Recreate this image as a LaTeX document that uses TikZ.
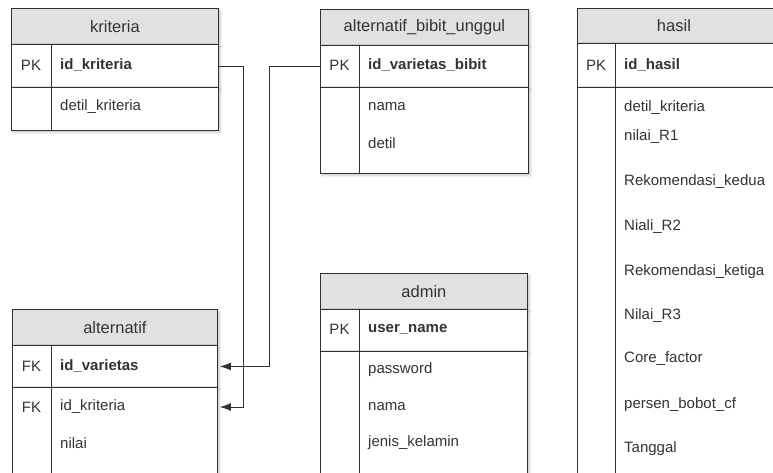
\documentclass[tikz,border=0pt]{standalone}
\usepackage{fontspec}
\setmainfont{Liberation Sans}
\usepackage{xcolor}
\usetikzlibrary{arrows.meta,positioning,shadows.blur}
\definecolor{hdgray}{HTML}{E1E1E1}
\definecolor{lngray}{HTML}{303030}
\definecolor{txgray}{HTML}{333333}
\tikzstyle{tbl}=[draw=lngray, line width=0.9pt, fill=white, inner sep=0pt, anchor=north west, blur shadow={shadow xshift=2pt, shadow yshift=-2pt, shadow blur radius=2.5pt, shadow opacity=22}]
\tikzstyle{head}=[tbl, fill=hdgray, text=txgray, font=\fontsize{16.5}{20}\selectfont]
\tikzstyle{fld}=[anchor=west, inner sep=0pt, text=txgray, font=\fontsize{15}{18}\selectfont]
\tikzstyle{key}=[fld, anchor=center]
\tikzstyle{bold}=[font=\fontsize{15}{18}\selectfont\bfseries]
\tikzset{fk/.style={-{Latex[length=11pt,width=8pt]}, draw=lngray, line width=0.9pt, shorten >=2pt},
    sep/.style={draw=lngray, line width=0.9pt}}

\begin{document}
\begin{tikzpicture}[x=1pt,y=-1pt]
    \useasboundingbox (0,0) rectangle (773,472);
    % kriteria
    \node[head, minimum width=207pt, minimum height=36pt] (krit) at (11,8) {kriteria};
    \node[tbl, minimum width=207pt, minimum height=43pt] (kritpk) at (11,44) {};
    \node[tbl, minimum width=207pt, minimum height=43pt] (kritbody) at (11,87) {};
    \draw[sep] ([xshift=40pt]kritpk.north west) -- ([xshift=40pt]kritbody.south west);
    \node[key] (kritk) at (31,65) {PK};
    \node[fld,bold] (kritid) at (60,65) {id\_kriteria};
    \node[fld] (kritdet) at (60,107) {detil\_kriteria};
    % alternatif_bibit_unggul
    \node[head, minimum width=208pt, minimum height=36pt] (aub) at (320,9) {alternatif\_bibit\_unggul};
    \node[tbl, minimum width=208pt, minimum height=42pt] (aubpk) at (320,45) {};
    \node[tbl, minimum width=208pt, minimum height=86pt] (aubbody) at (320,87) {};
    \draw[sep] ([xshift=39pt]aubpk.north west) -- ([xshift=39pt]aubbody.south west);
    \node[key] (aubk) at (339.5,65) {PK};
    \node[fld,bold] (aubid) at (368,65) {id\_varietas\_bibit};
    \node[fld] (aubnama) at (368,107) {nama};
    \node[fld] (aubdet) at (368,143) {detil};
    % hasil
    \node[head, minimum width=225pt, minimum height=35pt] (has) at (577,8) {\hspace*{-32pt}hasil};
    \node[tbl, minimum width=225pt, minimum height=44pt] (haspk) at (577,43) {};
    \node[tbl, minimum width=225pt, minimum height=410pt] (hasbody) at (577,87) {};
    \draw[sep] ([xshift=38pt]haspk.north west) -- ([xshift=38pt]hasbody.south west);
    \node[key] (hask) at (596,65) {PK};
    \node[fld,bold] (hasid) at (624,65) {id\_hasil};
    \node[fld] (hasdet) at (624,108) {detil\_kriteria};
    \node[fld] (hasr1) at (624,137) {nilai\_R1};
    \node[fld] (haskedua) at (624,182) {Rekomendasi\_kedua};
    \node[fld] (hasr2) at (624,227) {Niali\_R2};
    \node[fld] (hasketiga) at (624,272) {Rekomendasi\_ketiga};
    \node[fld] (hasr3) at (624,316) {Nilai\_R3};
    \node[fld] (hascore) at (624,359) {Core\_factor};
    \node[fld] (hascf) at (624,405) {persen\_bobot\_cf};
    \node[fld] (hastgl) at (624,449) {Tanggal};
    % alternatif
    \node[head, minimum width=205pt, minimum height=36pt] (alt) at (12,309) {alternatif};
    \node[tbl, minimum width=205pt, minimum height=42pt] (altpk) at (12,345) {};
    \node[tbl, minimum width=205pt, minimum height=110pt] (altbody) at (12,387) {};
    \draw[sep] ([xshift=39pt]altpk.north west) -- ([xshift=39pt]altbody.south west);
    \node[key] (altk1) at (31.5,366) {FK};
    \node[fld,bold] (altvar) at (60,366) {id\_varietas};
    \node[key] (altk2) at (31.5,407) {FK};
    \node[fld] (altkrit) at (60,407) {id\_kriteria};
    \node[fld] (altnilai) at (60,443) {nilai};
    % admin
    \node[head, minimum width=207pt, minimum height=36pt] (adm) at (320,273) {admin};
    \node[tbl, minimum width=207pt, minimum height=42pt] (admpk) at (320,309) {};
    \node[tbl, minimum width=207pt, minimum height=150pt] (admbody) at (320,351) {};
    \draw[sep] ([xshift=39pt]admpk.north west) -- ([xshift=39pt]admbody.south west);
    \node[key] (admk) at (339.5,329) {PK};
    \node[fld,bold] (admuser) at (368,329) {user\_name};
    \node[fld] (admpass) at (368,370) {password};
    \node[fld] (admnama) at (368,407) {nama};
    \node[fld] (admjk) at (368,443) {jenis\_kelamin};
    % relations
    \draw[fk] (kritpk.east) -- ++(25,0) |- (altbody.east |- altkrit);
    \draw[fk] (aubpk.west) -- ++(-51,0) |- (altpk.east);
\end{tikzpicture}
\end{document}
